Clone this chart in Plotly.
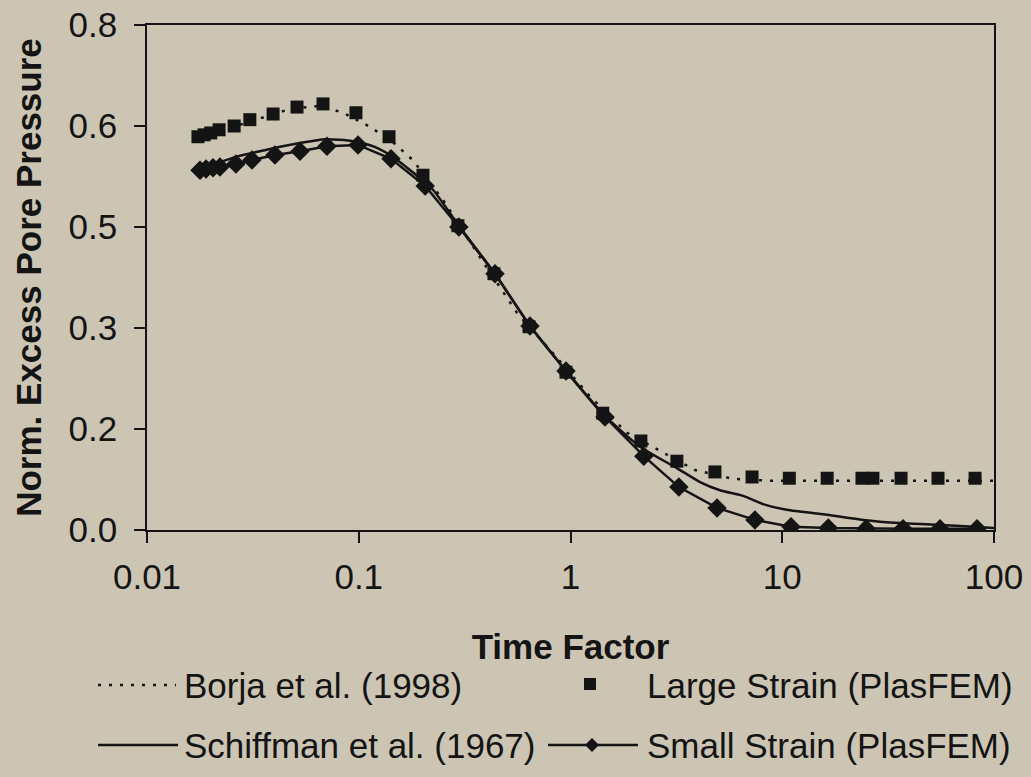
import plotly.graph_objects as go

# ---------------- data ----------------
large_t = [0.0174, 0.0186, 0.0200, 0.0219, 0.0258, 0.0306, 0.0394, 0.0511, 0.0678, 0.0970,
           0.139, 0.201, 0.294, 0.435, 0.637, 0.952, 1.42, 2.15, 3.18, 4.81,
           7.20, 10.8, 16.3, 23.8, 26.8, 36.4, 54.4, 81.4]
large_u = [0.623, 0.626, 0.629, 0.634, 0.640, 0.650, 0.659, 0.670, 0.675, 0.661,
           0.623, 0.562, 0.482, 0.406, 0.322, 0.250, 0.185, 0.141, 0.109, 0.092,
           0.084, 0.082, 0.082, 0.082, 0.082, 0.082, 0.082, 0.082]

small_t = [0.0178, 0.0190, 0.0205, 0.0221, 0.0263, 0.0313, 0.0402, 0.0528, 0.0708, 0.0992,
           0.142, 0.206, 0.297, 0.440, 0.644, 0.952, 1.455, 2.22, 3.25, 4.92,
           7.43, 11.0, 16.5, 24.9, 37.2, 55.6, 83.1]
small_u = [0.570, 0.572, 0.574, 0.575, 0.580, 0.586, 0.594, 0.600, 0.608, 0.610,
           0.588, 0.545, 0.480, 0.406, 0.323, 0.252, 0.179, 0.117, 0.068, 0.035,
           0.016, 0.005, 0.003, 0.002, 0.002, 0.002, 0.002]

schiff_t = [0.0169, 0.0221, 0.0275, 0.0342, 0.0425, 0.0528, 0.0693, 0.0939, 0.119, 0.145,
            0.175, 0.224, 0.297, 0.440, 0.644, 0.952, 1.41, 2.13, 3.18, 4.09,
            5.08, 6.53, 8.11, 10.5, 16.3, 24.1, 36.0, 55.6, 79.6, 100.0]
schiff_u = [0.575, 0.583, 0.593, 0.600, 0.607, 0.613, 0.619, 0.616, 0.607, 0.591,
            0.570, 0.539, 0.482, 0.406, 0.323, 0.252, 0.185, 0.132, 0.098, 0.076,
            0.063, 0.054, 0.041, 0.032, 0.024, 0.016, 0.011, 0.008, 0.005, 0.003]

borja_t = [0.0174, 0.0247, 0.0342, 0.0473, 0.0656, 0.0843, 0.111, 0.141, 0.180, 0.250,
           0.386, 0.559, 0.827, 1.24, 1.85, 2.95, 3.87, 5.85, 8.76, 20.9, 100.0]
borja_u = [0.621, 0.637, 0.653, 0.667, 0.672, 0.661, 0.640, 0.618, 0.586, 0.523,
           0.425, 0.344, 0.280, 0.211, 0.154, 0.116, 0.095, 0.081, 0.078, 0.078, 0.078]

y_tickvals = [0.0, 0.16, 0.32, 0.48, 0.64, 0.8]
y_ticktext = ["0.0", "0.2", "0.3", "0.5", "0.6", "0.8"]
x_tickvals = [0.01, 0.1, 1, 10, 100]
x_ticktext = ["0.01", "0.1", "1", "10", "100"]

legend_names = ["Borja et al. (1998)", "Large Strain (PlasFEM)",
                "Schiffman et al. (1967)", "Small Strain (PlasFEM)"]

# ---------------- layout constants ----------------
W, H = 1031, 777
ML, MR, MT, MB = 147, 37, 25, 247
PW = W - ML - MR
PH = H - MT - MB
BG = "#cdc5b3"
INK = "#141414"
FONT = "Liberation Sans, Arial, sans-serif"


def pxx(x):
    return (x - ML) / PW


def pxy(y):
    return (H - MB - y) / PH


fig = go.Figure()

fig.add_trace(go.Scatter(x=borja_t, y=borja_u, mode="lines", name=legend_names[0],
                         line=dict(color=INK, width=2.5, dash="3px,8px"), showlegend=False))
fig.add_trace(go.Scatter(x=schiff_t, y=schiff_u, mode="lines", name=legend_names[2],
                         line=dict(color=INK, width=2.5, shape="spline", smoothing=0.6),
                         showlegend=False))
fig.add_trace(go.Scatter(x=small_t, y=small_u, mode="lines+markers", name=legend_names[3],
                         line=dict(color=INK, width=2.5),
                         marker=dict(symbol="diamond", size=15, color=INK), showlegend=False))
fig.add_trace(go.Scatter(x=large_t, y=large_u, mode="markers", name=legend_names[1],
                         marker=dict(symbol="square", size=13, color=INK), showlegend=False))

axis_common = dict(showline=True, linecolor=INK, linewidth=1.5, mirror=True,
                   ticks="outside", ticklen=11, tickwidth=1.5, tickcolor=INK,
                   showgrid=False, zeroline=False, automargin=False,
                   tickfont=dict(family=FONT, size=35, color=INK))

fig.update_xaxes(type="log", range=[-2, 2], tickvals=x_tickvals, ticktext=x_ticktext,
                 ticklabelstandoff=4,
                 title=dict(text="<b>Time Factor</b>", standoff=40,
                            font=dict(family=FONT, size=35, color=INK)),
                 **axis_common)
fig.update_yaxes(range=[0, 0.8], tickvals=y_tickvals, ticktext=y_ticktext,
                 ticklabelstandoff=10,
                 title=dict(text="<b>Norm. Excess Pore Pressure</b>", standoff=16,
                            font=dict(family=FONT, size=35, color=INK)),
                 **axis_common)

# ---------------- manual legend ----------------
shapes = []
annotations = []
row1, row2 = 685, 745
LEG_FONT = dict(family=FONT, size=35, color=INK)

# Borja dotted sample
shapes.append(dict(type="line", xref="paper", yref="paper",
                   x0=pxx(98), x1=pxx(176), y0=pxy(row1), y1=pxy(row1),
                   line=dict(color=INK, width=2.5, dash="3px,8px")))
# Schiffman solid sample
shapes.append(dict(type="line", xref="paper", yref="paper",
                   x0=pxx(98), x1=pxx(178), y0=pxy(row2), y1=pxy(row2),
                   line=dict(color=INK, width=2.5)))
# Large strain square sample
s = 6
shapes.append(dict(type="rect", xref="paper", yref="paper",
                   x0=pxx(590 - s), x1=pxx(590 + s), y0=pxy(row1 - s - 1), y1=pxy(row1 + s - 1),
                   fillcolor=INK, line=dict(width=0)))
# Small strain line + diamond
shapes.append(dict(type="line", xref="paper", yref="paper",
                   x0=pxx(548), x1=pxx(638), y0=pxy(row2), y1=pxy(row2),
                   line=dict(color=INK, width=2.5)))
d = 7
path = "M {} {} L {} {} L {} {} L {} {} Z".format(
    pxx(592), pxy(row2 - d), pxx(592 + d), pxy(row2),
    pxx(592), pxy(row2 + d), pxx(592 - d), pxy(row2))
shapes.append(dict(type="path", xref="paper", yref="paper", path=path,
                   fillcolor=INK, line=dict(width=0)))

for name, x0, y0 in [(legend_names[0], 182, row1), (legend_names[1], 645, row1),
                     (legend_names[2], 182, row2), (legend_names[3], 645, row2)]:
    annotations.append(dict(text=name, xref="paper", yref="paper", x=pxx(x0), y=pxy(y0),
                            xanchor="left", yanchor="middle", showarrow=False,
                            font=LEG_FONT))

fig.update_layout(width=W, height=H, margin=dict(l=ML, r=MR, t=MT, b=MB, autoexpand=False),
                  paper_bgcolor=BG, plot_bgcolor=BG, shapes=shapes,
                  annotations=annotations, font=dict(family=FONT, color=INK))

fig.write_html("out.html")
